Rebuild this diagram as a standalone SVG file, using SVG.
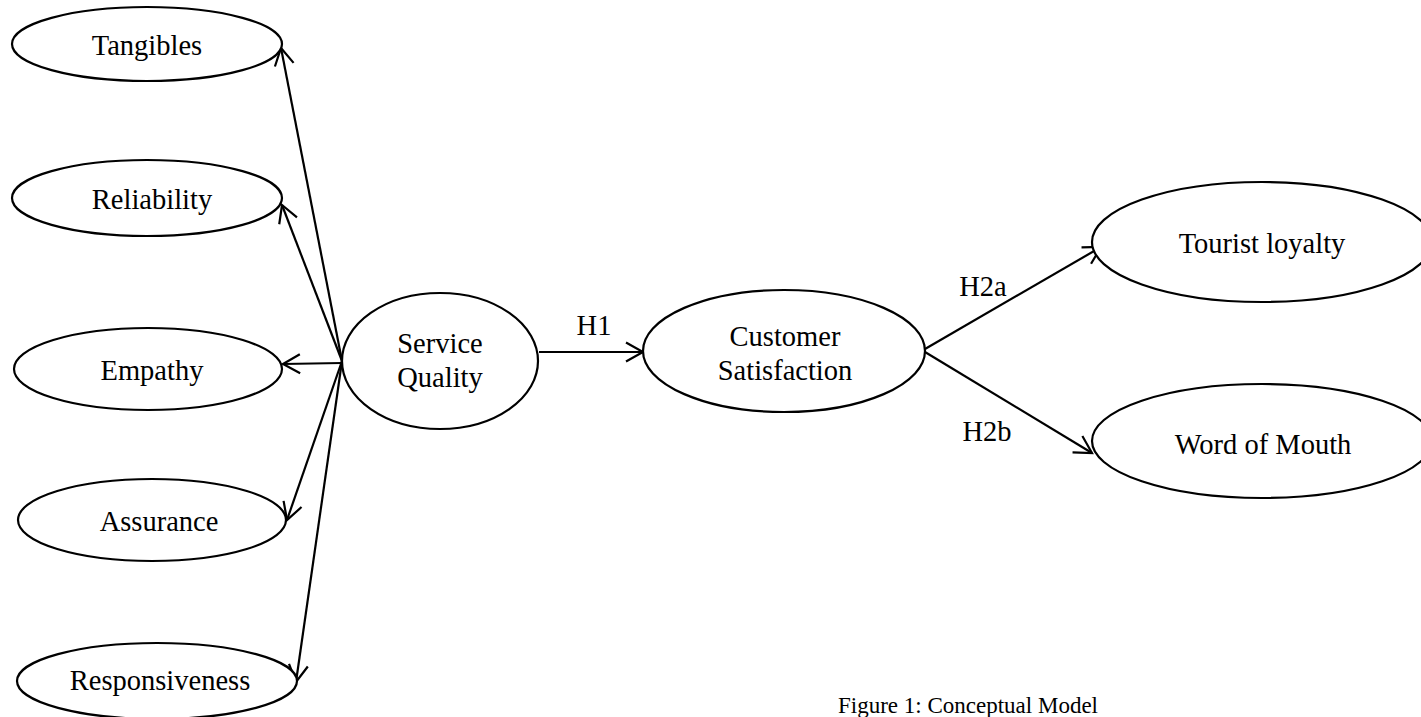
<svg xmlns="http://www.w3.org/2000/svg" width="1421" height="717" viewBox="0 0 1421 717">
<style>
.n ellipse{fill:#fff;stroke:#000;stroke-width:2.2}
text{font-family:"Liberation Serif","Times New Roman",serif;font-size:28.5px;fill:#000;text-anchor:middle}
.c line{stroke:#000;stroke-width:2.2;fill:none}
.cap{font-size:23px;text-anchor:start}
</style>
<defs>
<marker id="ah" markerUnits="userSpaceOnUse" markerWidth="30" markerHeight="30" viewBox="-20 -15 30 30" refX="0" refY="0" orient="auto">
<path d="M-17,-9.5 L0,0 L-17,9.5" fill="none" stroke="#000" stroke-width="2.2"/>
</marker>
</defs>
<rect width="1421" height="717" fill="#fff"/>
<g class="c" id="connectors">
<line x1="342" y1="361" x2="281" y2="48" marker-end="url(#ah)"/>
<line x1="342" y1="361" x2="282" y2="205" marker-end="url(#ah)"/>
<line x1="342" y1="363" x2="283" y2="364" marker-end="url(#ah)"/>
<line x1="342" y1="361" x2="287" y2="520" marker-end="url(#ah)"/>
<line x1="342" y1="361" x2="296" y2="682" marker-end="url(#ah)"/>
<line x1="539" y1="352" x2="643" y2="352" marker-end="url(#ah)"/>
<line x1="925" y1="349" x2="1101" y2="247" marker-end="url(#ah)"/>
<line x1="925" y1="352" x2="1092" y2="453" marker-end="url(#ah)"/>
</g>
<g class="n" id="tangibles"><ellipse cx="147" cy="44" rx="135" ry="37"/><text x="147" y="55">Tangibles</text></g>
<g class="n" id="reliability"><ellipse cx="147" cy="198" rx="135" ry="38"/><text x="152" y="209">Reliability</text></g>
<g class="n" id="empathy"><ellipse cx="148" cy="369" rx="134" ry="41"/><text x="152" y="380">Empathy</text></g>
<g class="n" id="assurance"><ellipse cx="152" cy="520" rx="134" ry="41"/><text x="159" y="531">Assurance</text></g>
<g class="n" id="responsiveness"><ellipse cx="157" cy="681" rx="140" ry="38"/><text x="160" y="690">Responsiveness</text></g>
<g class="n" id="service-quality"><ellipse cx="440" cy="361" rx="98" ry="68"/><text x="440" y="353">Service</text><text x="440" y="387">Quality</text></g>
<g class="n" id="customer-satisfaction"><ellipse cx="784" cy="351" rx="141" ry="61"/><text x="785" y="346">Customer</text><text x="785" y="380">Satisfaction</text></g>
<g class="n" id="tourist-loyalty"><ellipse cx="1262" cy="242" rx="170" ry="60"/><text x="1262" y="253">Tourist loyalty</text></g>
<g class="n" id="word-of-mouth"><ellipse cx="1262" cy="441" rx="170" ry="57"/><text x="1263" y="454">Word of Mouth</text></g>
<g id="labels">
<text x="594" y="335">H1</text>
<text x="983" y="296">H2a</text>
<text x="987" y="441">H2b</text>
</g>
<text class="cap" x="838" y="713">Figure 1: Conceptual Model</text>
</svg>
